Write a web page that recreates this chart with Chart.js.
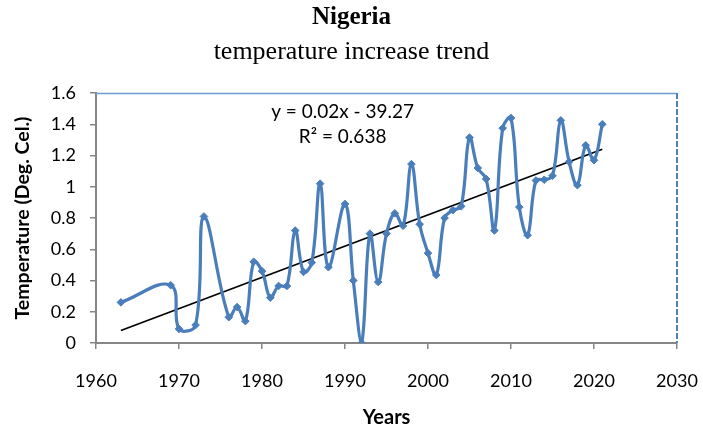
<!DOCTYPE html>
<html>
<head>
<meta charset="utf-8">
<script src="https://cdn.jsdelivr.net/npm/chart.js@4/dist/chart.umd.min.js"></script>
<style>
  html, body { margin: 0; padding: 0; background: #fff; }
  #wrap { width: 703px; height: 432px; }
</style>
</head>
<body>
<div id="wrap"><canvas id="c" width="703" height="432"></canvas></div>
<script>
const years = [1963, 1969, 1970, 1972, 1973, 1976, 1977, 1978, 1979, 1980,
  1981, 1982, 1983, 1984, 1985, 1986, 1987, 1988, 1990, 1991,
  1992, 1993, 1994, 1995, 1996, 1997, 1998, 1999, 2000, 2001,
  2002, 2003, 2004, 2005, 2006, 2007, 2008, 2009, 2010, 2011,
  2012, 2013, 2014, 2015, 2016, 2017, 2018, 2019, 2020, 2021];
const tempIncrease = [0.26, 0.37, 0.09, 0.115, 0.81, 0.165, 0.23, 0.14, 0.52, 0.46,
  0.29, 0.365, 0.365, 0.72, 0.455, 0.515, 1.02, 0.485, 0.89, 0.40,
  0.0, 0.70, 0.39, 0.70, 0.83, 0.75, 1.145, 0.76, 0.575, 0.435,
  0.80, 0.85, 0.875, 1.315, 1.12, 1.05, 0.72, 1.375, 1.44, 0.87,
  0.69, 1.04, 1.045, 1.07, 1.425, 1.16, 1.01, 1.265, 1.17, 1.40];
const trendYears = [1963, 2021];
const trendValues = [0.08, 1.24];
const xTicks = [1960, 1970, 1980, 1990, 2000, 2010, 2020, 2030];
const yTicks = [0, 0.2, 0.4, 0.6, 0.8, 1, 1.2, 1.4, 1.6];
const titleText = 'Nigeria';
const subtitleText = 'temperature increase trend';
const equationText = 'y = 0.02x - 39.27';
const r2Text = 'R² = 0.638';

const seriesPts = years.map((y, i) => ({ x: y, y: tempIncrease[i] }));
const trendPts = trendYears.map((y, i) => ({ x: y, y: trendValues[i] }));

const AXIS = '#868686';
const BLUE = '#4a7ebb';

const framePlugin = {
  id: 'frame',
  beforeDatasetsDraw(chart) {
    const { ctx, chartArea: a } = chart;
    ctx.save();
    ctx.strokeStyle = '#6f9bd1';
    ctx.lineWidth = 1.5;
    ctx.beginPath();
    ctx.moveTo(a.left, a.top + 0.5);
    ctx.lineTo(a.right, a.top + 0.5);
    ctx.stroke();
    ctx.strokeStyle = '#4f81bd';
    ctx.lineWidth = 2;
    ctx.setLineDash([6, 2]);
    ctx.beginPath();
    ctx.moveTo(a.right, a.top);
    ctx.lineTo(a.right, a.bottom);
    ctx.stroke();
    ctx.restore();
  },
  afterDraw(chart) {
    const { ctx, chartArea: a } = chart;
    ctx.save();
    ctx.fillStyle = '#000';
    ctx.font = '19px Lato';
    ctx.textAlign = 'center';
    ctx.textBaseline = 'middle';
    const cx = a.left + 0.4245 * (a.right - a.left);
    ctx.fillText(equationText, cx, a.top + 19);
    ctx.fillText(r2Text, cx, a.top + 44);
    ctx.restore();
  }
};

new Chart(document.getElementById('c'), {
  type: 'scatter',
  data: {
    datasets: [
      {
        data: seriesPts,
        showLine: true,
        borderColor: BLUE,
        backgroundColor: BLUE,
        borderWidth: 3.2,
        tension: 0.4,
        pointStyle: 'rectRot',
        pointRadius: 3.8,
        pointBorderWidth: 1,
        pointBackgroundColor: BLUE,
        pointBorderColor: BLUE
      },
      {
        data: trendPts,
        showLine: true,
        borderColor: '#000',
        borderWidth: 1.8,
        pointRadius: 0,
        tension: 0
      }
    ]
  },
  options: {
    responsive: false,
    animation: false,
    layout: { padding: { left: 13, right: 13, top: 0, bottom: 0 } },
    plugins: {
      legend: { display: false },
      tooltip: { enabled: false },
      title: {
        display: true,
        text: titleText,
        color: '#000',
        font: { family: 'Liberation Serif', size: 25, weight: 'bold', lineHeight: 1.2 },
        padding: { top: 3, bottom: 0 }
      },
      subtitle: {
        display: true,
        text: subtitleText,
        color: '#000',
        font: { family: 'Liberation Serif', size: 26, lineHeight: 1.2 },
        padding: { top: 4, bottom: 24.8 }
      }
    },
    scales: {
      x: {
        type: 'linear',
        min: 1960,
        max: 2030,
        afterBuildTicks(scale) { scale.ticks = xTicks.map(v => ({ value: v })); },
        afterFit(scale) { scale.height = 89; scale.paddingLeft = 0; scale.paddingRight = 26; },
        ticks: {
          color: '#000',
          font: { family: 'Lato', size: 18 },
          padding: 21,
          maxRotation: 0,
          callback: v => String(v)
        },
        grid: { display: true, drawOnChartArea: false, drawTicks: true, tickLength: 6, color: AXIS, lineWidth: 1.5 },
        border: { display: true, color: AXIS, width: 2 },
        title: {
          display: true,
          text: 'Years',
          color: '#000',
          font: { family: 'Lato', size: 20, weight: 'bold', lineHeight: 1.2 },
          padding: { top: 0, bottom: 2 }
        }
      },
      y: {
        type: 'linear',
        min: 0,
        max: 1.6,
        afterBuildTicks(scale) { scale.ticks = yTicks.map(v => ({ value: v })); },
        afterFit(scale) { scale.width = 83; },
        ticks: {
          color: '#000',
          font: { family: 'Lato', size: 18 },
          padding: 14,
          callback: v => String(Math.round(v * 10) / 10)
        },
        grid: { display: true, drawOnChartArea: false, drawTicks: true, tickLength: 6, color: AXIS, lineWidth: 1.5 },
        border: { display: true, color: AXIS, width: 2 },
        title: {
          display: true,
          text: 'Temperature (Deg. Cel.)',
          color: '#000',
          font: { family: 'Lato', size: 19.5, weight: 'bold', lineHeight: 1 },
          padding: { top: 0, bottom: 0 }
        }
      }
    }
  },
  plugins: [framePlugin]
});
</script>
</body>
</html>
